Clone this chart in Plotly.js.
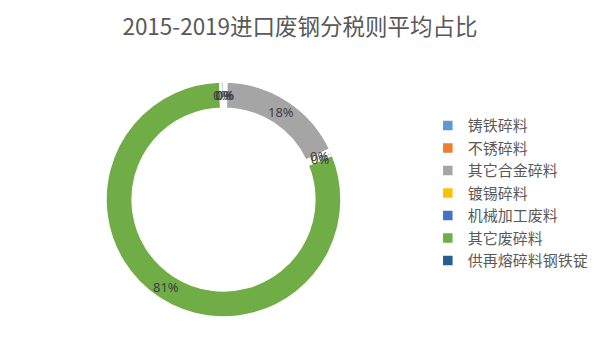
<!DOCTYPE html>
<html>
<head>
<meta charset="utf-8">
<script src="https://cdn.plot.ly/plotly-3.0.1.min.js"></script>
<style>html,body{margin:0;padding:0;background:#fff;}#chart{width:600px;height:355px;}</style>
</head>
<body>
<div id="chart"></div>
<script>
const categories = ["铸铁碎料", "不锈碎料", "其它合金碎料", "镀锡碎料", "机械加工废料", "其它废碎料", "供再熔碎料钢铁锭"];
const shares = [0.2, 0.2, 17.6, 0.4, 0.4, 80.8, 0.4];
const colors = ["#5B9BD5", "#ED7D31", "#A5A5A5", "#FFC000", "#4472C4", "#70AD47", "#255E91"];
const titleText = "2015-2019进口废钢分税则平均占比";

const cx = 223.5, cy = 199.5, R = 118, W = 600, H = 355;
const holeFrac = 0.77;

const trace = {
  type: "pie",
  labels: categories,
  values: shares,
  sort: false,
  direction: "clockwise",
  rotation: 0,
  hole: holeFrac,
  marker: {colors: colors, line: {color: "#ffffff", width: 2.5}},
  textinfo: "none",
  hoverinfo: "label+percent",
  domain: {x: [(cx - R) / W, (cx + R) / W], y: [(H - cy - R) / H, (H - cy + R) / H]}
};

// data labels: placed at each slice's mid-angle, mid-ring radius (derived from the values)
const total = shares.reduce((a, b) => a + b, 0);
const rMid = R * (1 + holeFrac) / 2;
let cum = 0;
const annotations = shares.map((v) => {
  const mid = (cum + v / 2) / total * 2 * Math.PI;
  cum += v;
  const px = cx + rMid * Math.sin(mid);
  const py = cy - rMid * Math.cos(mid);
  return {
    text: Math.round(v / total * 100) + "%",
    x: px / W, y: 1 - py / H, xref: "paper", yref: "paper",
    xanchor: "center", yanchor: "middle", showarrow: false,
    font: {family: "Noto Sans, sans-serif", size: 13, color: "#404040"}
  };
});

const layout = {
  width: W, height: H,
  margin: {l: 0, r: 0, t: 0, b: 0},
  paper_bgcolor: "#ffffff",
  title: {
    text: titleText,
    font: {family: "Noto Sans CJK SC, sans-serif", size: 22.5, color: "#595959"},
    x: 0.5, xanchor: "center", xref: "paper",
    y: 1 - 27 / H, yanchor: "middle", yref: "container"
  },
  annotations: annotations,
  showlegend: true,
  legend: {
    x: 0.713, xanchor: "left",
    y: 0.692, yanchor: "top",
    font: {family: "Noto Sans CJK SC, sans-serif", size: 15, color: "#595959"},
    bgcolor: "rgba(0,0,0,0)",
    traceorder: "normal"
  }
};

Plotly.newPlot("chart", [trace], layout, {displayModeBar: false, staticPlot: true});
</script>
</body>
</html>
